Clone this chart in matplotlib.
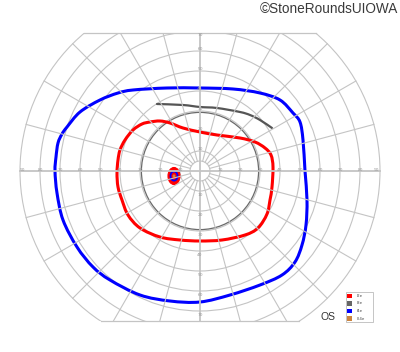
import numpy as np
import matplotlib
matplotlib.use("Agg")
import matplotlib.pyplot as plt
from matplotlib.patches import Circle, Ellipse, Rectangle, PathPatch
from matplotlib.path import Path

# ---- data (degrees of visual field, x = horizontal, y = vertical) ----
grid_radii = [5, 10, 20, 30, 40, 50, 60, 70, 80, 90]
meridians = list(range(0, 360, 15))
axis_labels = [10, 20, 30, 40, 50, 60, 70, 80, 90]
vert_labels = [10, 20, 30, 40, 50, 60, 70]
field_top, field_bottom = 69, -75

i4e_x = [-72.5, -72, -71, -69, -66.5, -60, -50, -41, -33.5, -16.5, 0, 16.5, 30, 40, 46.5, 50,
         51.5, 52.5, 53.5, 53, 51, 47.5, 41, 30, 15, 0, -15, -30, -45, -53.5, -61.5, -68.5, -71.5]
i4e_y = [0, 7, 14, 18.5, 22, 29.5, 35.5, 39, 40.5, 41.5, 41.5, 41, 39, 35.5, 29, 24.5,
         15.5, 0, -14.5, -27, -37, -45.5, -52, -57, -62, -65.5, -65, -62, -54.5, -48, -38, -24.5, -11]

i2e_x = [-41.5, -41, -40, -37.5, -33.5, -29, -25, -20, -15, -8.5, 0, 8.5, 20, 27.5, 32.5, 35.5,
         36.5, 36, 35, 33.5, 29, 22.5, 11, 0, -10, -20, -30, -36, -39, -41]
i2e_y = [-1, 5.5, 10.5, 15.5, 20.5, 23.5, 24.5, 25, 24, 21.5, 19.5, 18, 16.5, 14.5, 11.5, 8,
         2, -8, -14.5, -21.5, -28.5, -32, -34.5, -35, -34.5, -33, -28.5, -22, -14.5, -8]

i3e_x = [-21.5, -8.5, 0, 8.5, 20, 25, 30, 36]
i3e_y = [33.5, 33, 32, 31.5, 29.5, 28, 25.5, 21.5]
i3e_ring = 29.3

blind_center = (-13, -2.5)
blind_i2e = (6.0, 8.5)
blind_i4e = (3.5, 4.6)
blind_iii4e = (1.4, 1.6)

legend_labels = ["I2e", "I3e", "I4e", "III4e"]
legend_colors = ["#ff0000", "#666666", "#0000ff", "#cd853f"]


def smooth_path(xs, ys, closed):
    """Catmull-Rom curve through the read points, as a cubic Bezier path."""
    p = np.column_stack([xs, ys]).astype(float)
    n = len(p)
    verts = [p[0]]
    codes = [Path.MOVETO]
    segs = n if closed else n - 1
    for i in range(segs):
        if closed:
            p0, p1, p2, p3 = p[(i - 1) % n], p[i], p[(i + 1) % n], p[(i + 2) % n]
        else:
            p0 = p[max(i - 1, 0)]
            p1, p2 = p[i], p[i + 1]
            p3 = p[min(i + 2, n - 1)]
        verts += [p1 + (p2 - p0) / 6, p2 - (p3 - p1) / 6, p2]
        codes += [Path.CURVE4] * 3
    return Path(verts, codes)


# ---- figure ----
fig = plt.figure(figsize=(4.0, 3.52), dpi=100)
ax = fig.add_axes([0, 0, 1, 1])
ax.set_xlim(-100, 100)
ax.set_ylim(-90.5, 85.5)
ax.set_aspect("equal")
ax.axis("off")

gc = "#c4c4c4"
clip_rect = Rectangle((-95, field_bottom), 190, field_top - field_bottom, transform=ax.transData)

for r in grid_radii:
    c = Circle((0, 0), r, fill=False, ec=gc, lw=0.8)
    ax.add_patch(c)
    c.set_clip_path(clip_rect)

for m in meridians:
    a = np.deg2rad(m)
    r0 = 0 if m % 90 == 0 else 5
    ln, = ax.plot([r0 * np.cos(a), 90 * np.cos(a)], [r0 * np.sin(a), 90 * np.sin(a)],
                  color=gc, lw=1.3 if m % 90 == 0 else 0.8)
    ln.set_clip_path(clip_rect)

for yy in (field_top, field_bottom):
    hx = np.sqrt(90 ** 2 - yy ** 2)
    ax.plot([-hx, hx], [yy, yy], color=gc, lw=0.9)

ring = Circle((0, 0), i3e_ring, fill=False, ec="#6a6a6a", lw=0.9)
ax.add_patch(ring)

lab_kw = dict(fontsize=3.2, color="#999999", ha="center", va="center")
for v in axis_labels:
    ax.text(-v if v < 90 else -88.5, 0.6, str(v), **lab_kw)
    ax.text(v if v < 90 else 88.5, 0.6, str(v), **lab_kw)
for v in vert_labels:
    ax.text(0, min(v + 1, 68), str(v), **lab_kw)
    ax.text(0, -v - 2, str(v), **lab_kw)

# isopters
ax.add_patch(PathPatch(smooth_path(i4e_x, i4e_y, True), fc="none", ec="#0000ff", lw=2.2,
                       joinstyle="round"))
ax.add_patch(PathPatch(smooth_path(i2e_x, i2e_y, True), fc="none", ec="#ff0000", lw=2.2,
                       joinstyle="round"))
ax.add_patch(PathPatch(smooth_path(i3e_x, i3e_y, False), fc="none", ec="#555555", lw=1.6,
                       joinstyle="round", capstyle="round"))

# blind spot
ax.add_patch(Ellipse(blind_center, *blind_i2e, fc="#ff0000", ec="#ff0000", lw=0.8))
ax.add_patch(Ellipse(blind_center, *blind_i4e, fc="none", ec="#0000ff", lw=1.3))
ax.add_patch(Ellipse(blind_center, *blind_iii4e, fc="#cd853f", ec="none"))

# legend box
ax.add_patch(Rectangle((73, -75.5), 13.5, 15, fc="white", ec="#bbbbbb", lw=0.6))
for i, (lab, col) in enumerate(zip(legend_labels, legend_colors)):
    yc = -62.5 - i * 3.75
    ax.add_patch(Rectangle((73.5, yc - 1.2), 2.6, 2.4, fc=col, ec="none"))
    ax.text(78.5, yc, lab, fontsize=2.8, color="#444444", va="center", ha="left")

ax.text(64, -73, "OS", fontsize=7.5, color="#333333", ha="center", va="center",
        family="Liberation Sans")

fig.text(0.995, 1 - 9 / 352, "\u00a9StoneRoundsUIOWA", fontsize=9.8, color="#3a3a3a",
         ha="right", va="center", family="Liberation Sans")

fig.savefig("out.png", dpi=100, facecolor="white")
